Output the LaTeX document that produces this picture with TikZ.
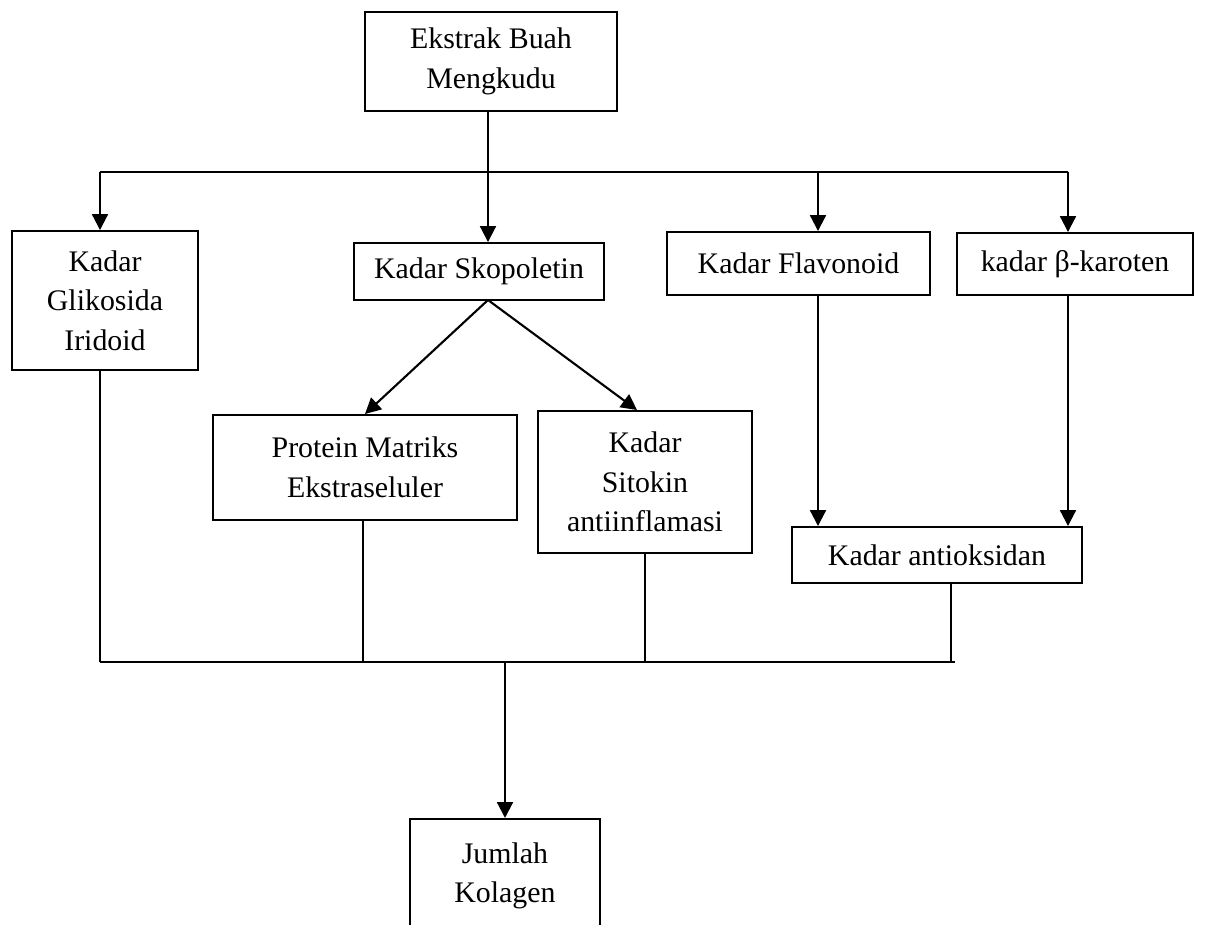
\documentclass[tikz,border=0pt]{standalone}
\usepackage{fontspec}
\setmainfont{Liberation Serif}
\usetikzlibrary{arrows.meta, positioning}

\tikzset{
  box/.style={draw, line width=1.1pt, align=center, inner sep=0pt,
    font=\fontsize{17}{22.5}\selectfont},
  arr/.style={line width=1.2pt, -{Triangle[length=9pt,width=9pt]}},
  link/.style={line width=0.6pt}
}

\begin{document}
\begin{tikzpicture}[x=0.02cm, y=-0.02cm]
    \useasboundingbox (0,0) rectangle (1205,925);
    % boxes
    \node[box, minimum width=5.04cm, minimum height=1.98cm] (ekstrak) at (491,61.5) {Ekstrak Buah\\Mengkudu};
    \node[box, minimum width=3.72cm, minimum height=2.78cm] (glikosida) at (105,300.5) {Kadar\\Glikosida\\Iridoid};
    \node[box, minimum width=5cm, minimum height=1.14cm] (skopoletin) at (479,271.5) {Kadar Skopoletin};
    \node[box, minimum width=5.26cm, minimum height=1.26cm] (flavonoid) at (798.5,263.5) {Kadar Flavonoid};
    \node[box, minimum width=4.72cm, minimum height=1.24cm] (karoten) at (1075,264) {kadar β-karoten};
    \node[box, minimum width=6.08cm, minimum height=2.1cm] (protein) at (365,467.5) {Protein Matriks\\Ekstraseluler};
    \node[box, minimum width=4.28cm, minimum height=2.84cm] (sitokin) at (645,482) {Kadar\\Sitokin\\antiinflamasi};
    \node[box, minimum width=5.8cm, minimum height=1.12cm] (antioksidan) at (937,555) {Kadar antioksidan};
    \node[box, minimum width=3.8cm, minimum height=2.28cm, anchor=north] (kolagen) at (505,818) {Jumlah\\Kolagen};
    % upper bus
    \coordinate (busA) at (100,172);
    \coordinate (busB) at (488,172);
    \coordinate (busC) at (818,172);
    \coordinate (busD) at (1068,172);
    \draw[link] (ekstrak.south -| busB) -- (busB);
    \draw[link] (busA) -- (busD);
    \draw[arr] (busA) -- (busA |- glikosida.north);
    \draw[arr] (busB) -- (busB |- skopoletin.north);
    \draw[arr] (busC) -- (busC |- flavonoid.north);
    \draw[arr] (busD) -- (busD |- karoten.north);
    % middle arrows
    \coordinate (skop) at (488,300);
    \draw[arr] (skop) -- (protein.north);
    \draw[arr] (skop) -- ([xshift=-0.16cm]sitokin.north);
    \draw[arr] (busC |- flavonoid.south) -- (busC |- antioksidan.north);
    \draw[arr] (busD |- karoten.south) -- (busD |- antioksidan.north);
    % lower bus
    \coordinate (lowA) at (100,662);
    \coordinate (lowB) at (363,662);
    \coordinate (lowC) at (645,662);
    \coordinate (lowD) at (951,662);
    \coordinate (lowE) at (505,662);
    \draw[link] (lowA |- glikosida.south) -- (lowA);
    \draw[link] (lowB |- protein.south) -- (lowB);
    \draw[link] (lowC |- sitokin.south) -- (lowC);
    \draw[link] (lowD |- antioksidan.south) -- (lowD);
    \draw[link] (lowA) -- ([xshift=0.08cm]lowD);
    \draw[arr] (lowE) -- (kolagen.north);
\end{tikzpicture}
\end{document}
